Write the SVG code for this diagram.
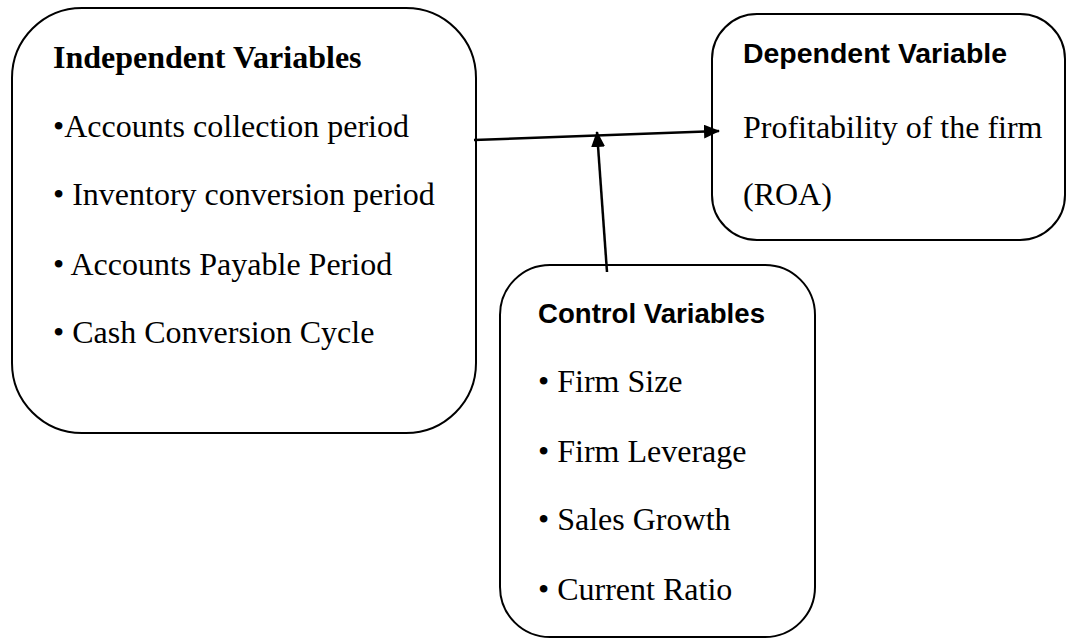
<svg xmlns="http://www.w3.org/2000/svg" width="1067" height="640" viewBox="0 0 1067 640">
<style>
.box{fill:#fff;stroke:#000;stroke-width:2}
.t{font-family:"Liberation Serif","Times New Roman",serif;font-size:32px;fill:#000}
.tb{font-family:"Liberation Serif","Times New Roman",serif;font-size:32px;font-weight:bold;fill:#000}
.sb{font-family:"Liberation Sans",Arial,sans-serif;font-size:27px;font-weight:bold;fill:#000}
.c{stroke:#000;stroke-width:2.5;fill:none}
</style>
<defs>
<marker id="ah" markerWidth="12" markerHeight="10" refX="11" refY="5" orient="auto" markerUnits="userSpaceOnUse">
<path d="M0,0 L12,5 L0,10 z" fill="#000"/>
</marker>
<marker id="ahv" markerWidth="16" markerHeight="14" refX="15" refY="7" orient="auto" markerUnits="userSpaceOnUse">
<path d="M0,0 L16,7 L0,14 z" fill="#000"/>
</marker>
</defs>
<rect width="1067" height="640" fill="#fff"/>
<g id="independent">
<rect class="box" x="12" y="8" width="464" height="425" rx="70" ry="70"/>
<text class="tb" x="53" y="68">Independent Variables</text>
<text class="t" x="53" y="137">•Accounts collection period</text>
<text class="t" x="53" y="205">• Inventory conversion period</text>
<text class="t" x="53" y="275">• Accounts Payable Period</text>
<text class="t" x="53" y="343">• Cash Conversion Cycle</text>
</g>
<g id="dependent">
<rect class="box" x="712" y="14" width="353" height="226" rx="45" ry="45"/>
<text class="sb" x="743" y="63" textLength="264" lengthAdjust="spacingAndGlyphs">Dependent Variable</text>
<text class="t" x="743" y="138">Profitability of the firm</text>
<text class="t" x="743" y="205">(ROA)</text>
</g>
<g id="control">
<rect class="box" x="500" y="265" width="315" height="372" rx="50" ry="50"/>
<text class="sb" x="538" y="323" textLength="227" lengthAdjust="spacingAndGlyphs">Control Variables</text>
<text class="t" x="538" y="392">• Firm Size</text>
<text class="t" x="538" y="462">• Firm Leverage</text>
<text class="t" x="538" y="530">• Sales Growth</text>
<text class="t" x="538" y="600">• Current Ratio</text>
</g>
<g id="connectors">
<line class="c" x1="474" y1="140" x2="719" y2="131" marker-end="url(#ahv)"/>
<line class="c" x1="607" y1="272" x2="597" y2="132" marker-end="url(#ahv)"/>
</g>
</svg>
